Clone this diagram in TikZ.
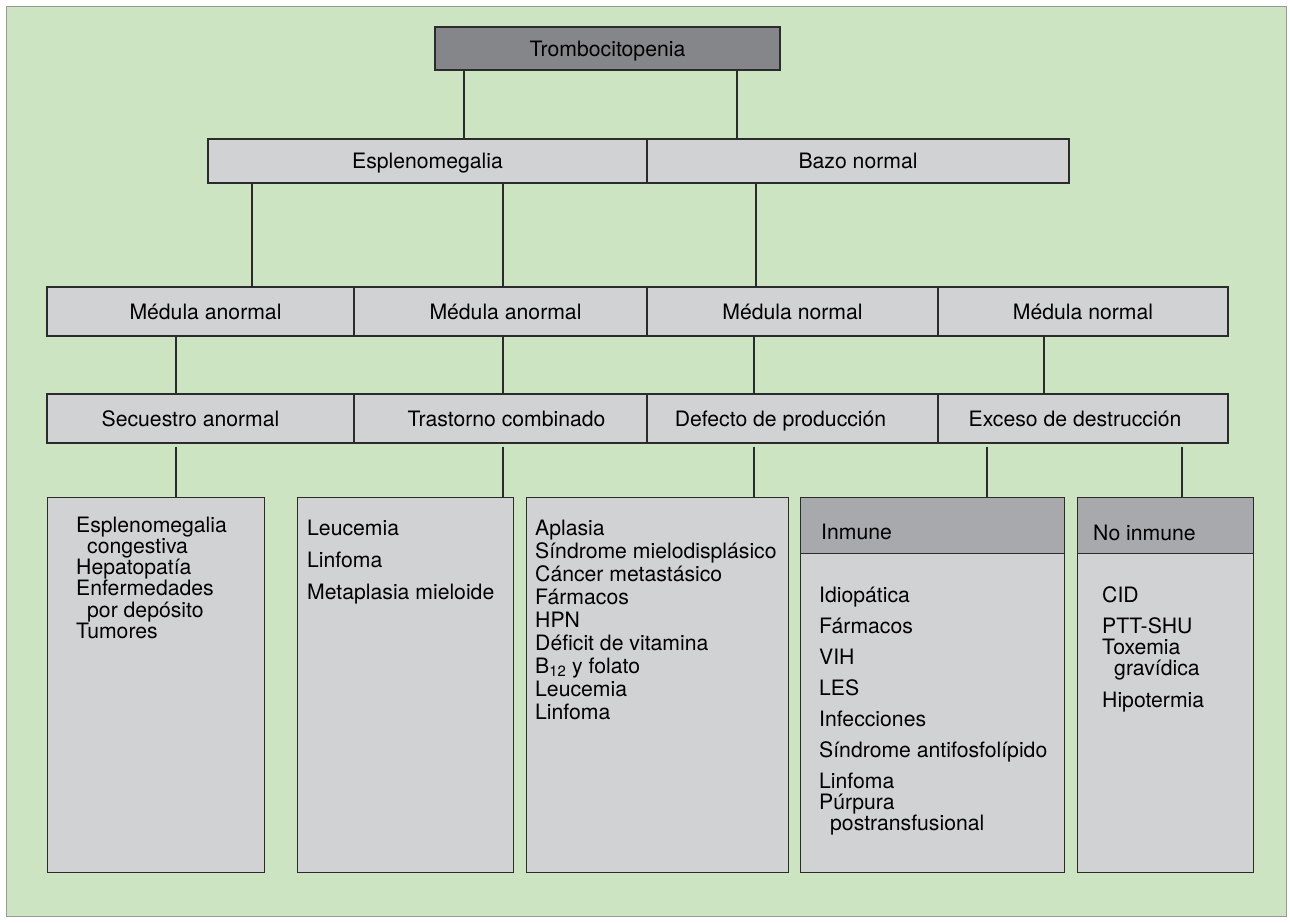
\documentclass[tikz,border=0pt]{standalone}
\usepackage{fontspec}
\setmainfont{TeX Gyre Heros}
\definecolor{colFondo}{HTML}{CDE4C2}
\definecolor{colCaja}{HTML}{D1D2D4}
\definecolor{colCabeza}{HTML}{A7A9AC}
\definecolor{colRaiz}{HTML}{858689}
\definecolor{colLinea}{HTML}{2B2B2B}
\tikzset{
	caja/.style={draw=colLinea, line width=1.2pt, fill=colCaja, inner sep=0pt, text height=19pt, text depth=3.8pt, font=\fontsize{21.2}{22}\selectfont},
	hoja/.style={draw=colLinea, line width=1.2pt, fill=colCaja, inner sep=0pt, minimum height=375, anchor=north west},
	cabeza/.style={draw=colLinea, line width=1.2pt, fill=colCabeza, minimum height=56, anchor=north west, inner sep=0pt},
	lista/.style={anchor=base west, align=left, inner sep=0pt},
	rama/.style={draw=colLinea, line width=1.2pt},
}
\begin{document}
\begin{tikzpicture}[x=1pt,y=-1pt]
	\useasboundingbox (0,0) rectangle (1290,922);
	\coordinate (F0) at (6,6);
	\coordinate (F1) at (1286,916);
% fondo
\path [fill=colFondo, draw=gray!80, line width=1pt] (F0) rectangle (F1);
	% raiz y primer nivel
	\node[caja, fill=colRaiz, minimum width=345, minimum height=43] (tromb) at (607.5,48.5) {Trombocitopenia};
	\node[caja, minimum width=439, minimum height=44] (esp) at (427.5,161) {Esplenomegalia};
	\node[caja, minimum width=422, minimum height=44] (bazo) at (858,161) {Bazo normal};
	% medula
	\node[caja, minimum width=307, minimum height=49] (med1) at (200.5,311.5) {\hspace*{10pt}Médula anormal};
	\node[caja, minimum width=293, minimum height=49] (med2) at (500.5,311.5) {\hspace*{10pt}Médula anormal};
	\node[caja, minimum width=291, minimum height=49] (med3) at (792.5,311.5) {Médula normal};
	\node[caja, minimum width=290, minimum height=49] (med4) at (1083,311.5) {Médula normal};
	% mecanismo
	\node[caja, minimum width=307, minimum height=49] (sec) at (200.5,418.5) {\hspace*{-20pt}Secuestro anormal};
	\node[caja, minimum width=293, minimum height=49] (tras) at (500.5,418.5) {\hspace*{12pt}Trastorno combinado};
	\node[caja, minimum width=291, minimum height=49] (def) at (792.5,418.5) {\hspace*{-24pt}Defecto de producción};
	\node[caja, minimum width=290, minimum height=49] (exc) at (1083,418.5) {\hspace*{-16pt}Exceso de destrucción};
	% causas
	\node[hoja, minimum width=217] (h1) at (47,497) {};
	\node[hoja, minimum width=216] (h2) at (297,497) {};
	\node[hoja, minimum width=262] (h3) at (526,497) {};
	\node[hoja, minimum width=264] (h4) at (800,497) {};
	\node[hoja, minimum width=176] (h5) at (1077,497) {};
	\node[cabeza, minimum width=264] (c4) at (h4.north west) {};
	\node[cabeza, minimum width=176] (c5) at (h5.north west) {};
	\node[lista, font=\fontsize{21.2}{21}\selectfont] (t4) at ([shift={(21,42)}]h4.north west) {Inmune};
	\node[lista, font=\fontsize{21.2}{21}\selectfont] (t5) at ([shift={(16,43)}]h5.north west) {No inmune};
	% base = ultima linea
	\node[lista, font=\fontsize{21.2}{21.3}\selectfont] (l1) at ([shift={(29,141.5)}]h1.north west)
		{Esplenomegalia\\\hspace*{11pt}congestiva\\Hepatopatía\\Enfermedades\\\hspace*{11pt}por depósito\\Tumores};
	\node[lista, font=\fontsize{21.2}{21.3}\selectfont] (l2) at ([shift={(10,102)}]h2.north west)
		{Leucemia\\[10.7pt]Linfoma\\[10.7pt]Metaplasia mieloide};
	\node[lista, font=\fontsize{21.2}{23}\selectfont] (l3) at ([shift={(9,222)}]h3.north west)
		{Aplasia\\Síndrome mielodisplásico\\Cáncer metastásico\\Fármacos\\HPN\\Déficit de vitamina\\B\textsubscript{12} y folato\\Leucemia\\Linfoma};
	\node[lista, font=\fontsize{21.2}{21}\selectfont] (l4) at ([shift={(19,333)}]h4.north west)
		{Idiopática\\[10pt]Fármacos\\[10pt]VIH\\[10pt]LES\\[10pt]Infecciones\\[10pt]Síndrome antifosfolípido\\[10pt]Linfoma\\Púrpura\\\hspace*{11pt}postransfusional};
	\node[lista, font=\fontsize{21.2}{21}\selectfont] (l5) at ([shift={(25,210)}]h5.north west)
		{CID\\[10pt]PTT-SHU\\Toxemia\\\hspace*{12pt}gravídica\\[11pt]Hipotermia};
	% ramas
	\foreach \a/\b/\x in {tromb/esp/464, tromb/bazo/737, esp/med1/252, esp/med2/503, bazo/med3/756,
		med1/sec/176, med2/tras/503, med3/def/754, med4/exc/1044}
		\draw[rama] (\a.south -| \x,0) -- (\b.north -| \x,0);
	\foreach \a/\b/\x in {sec/h1/176, tras/h2/503, def/h3/754, exc/h4/987, exc/h5/1182}
		\draw[rama, shorten <=3pt] (\a.south -| \x,0) -- (\b.north -| \x,0);
\end{tikzpicture}
\end{document}
